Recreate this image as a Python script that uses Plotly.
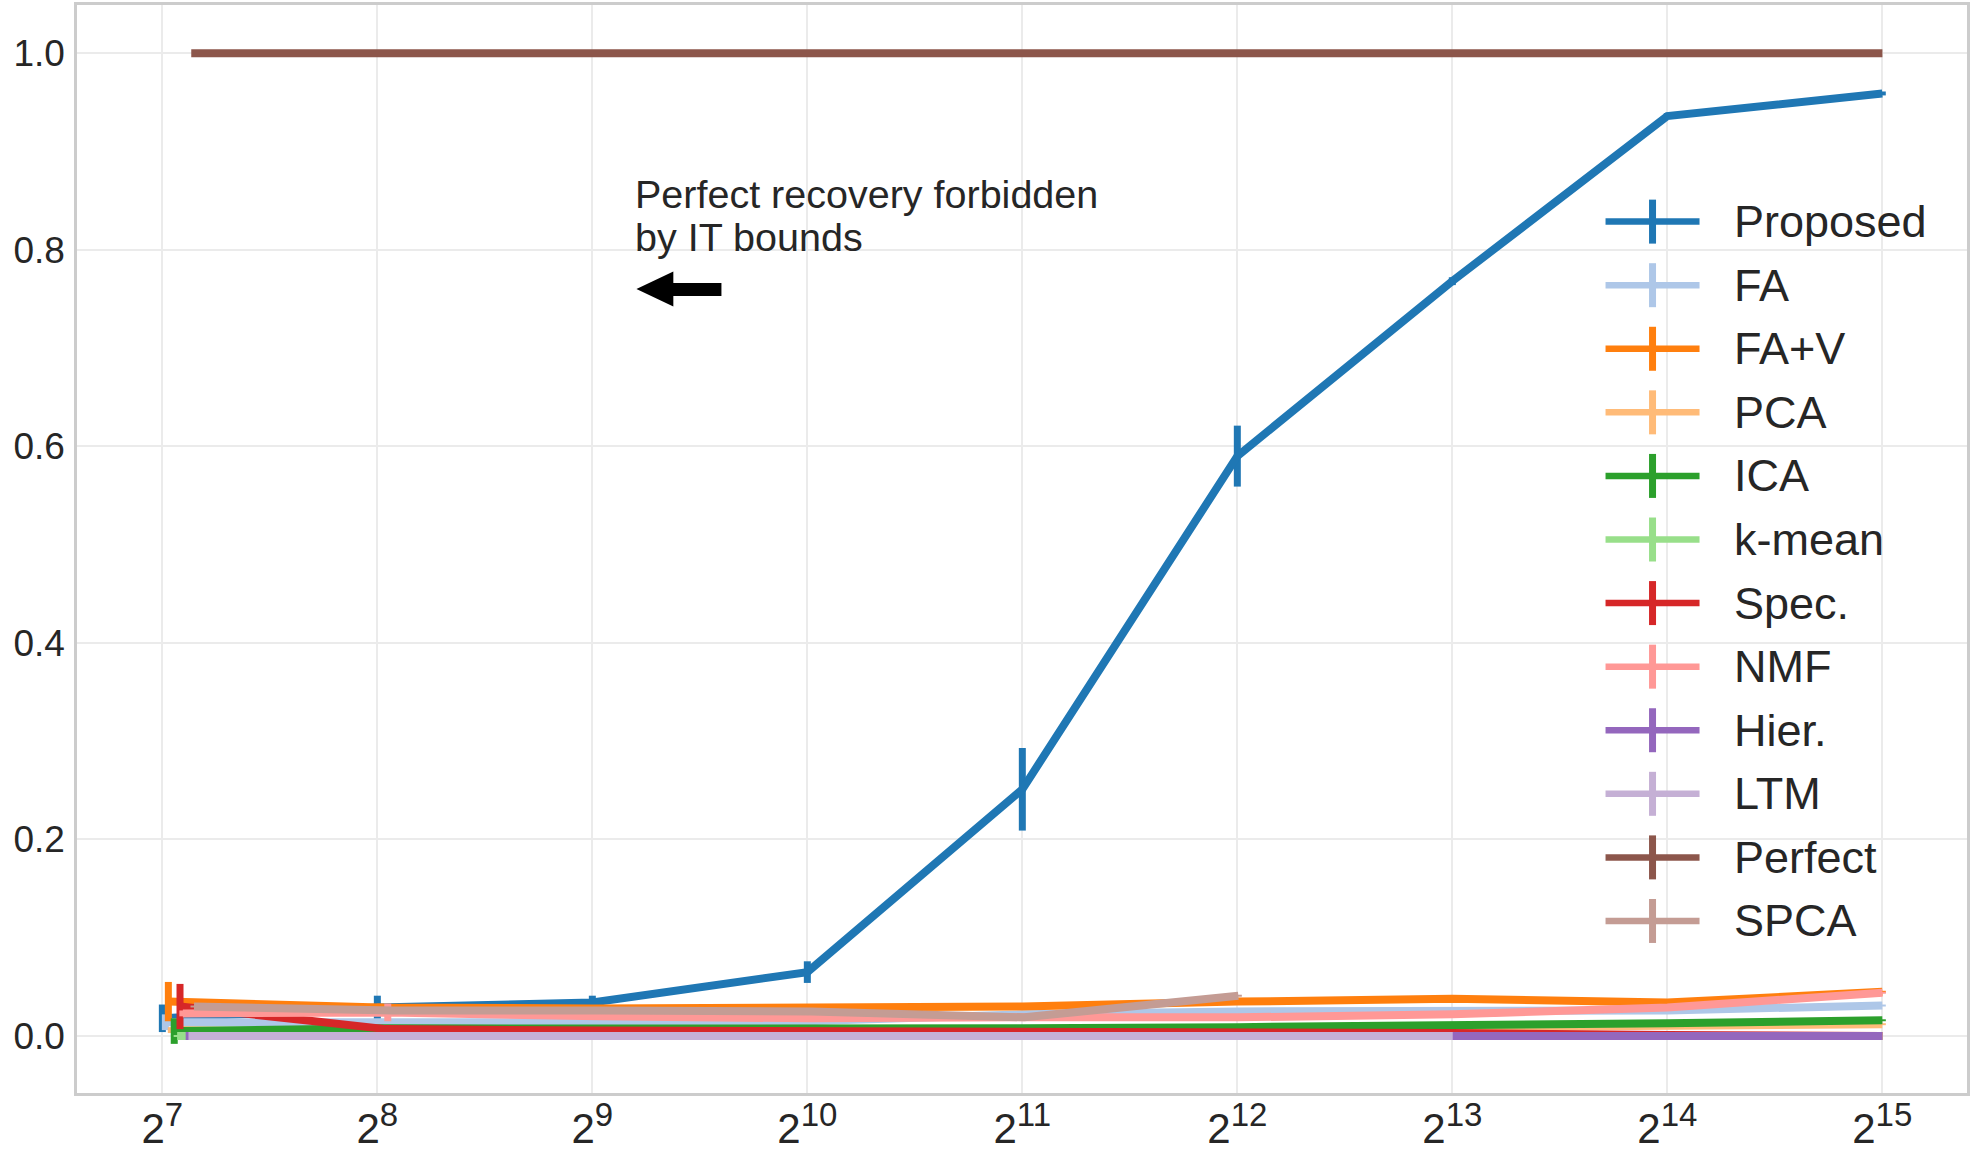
import math
import plotly.graph_objects as go

# ---------------- data ----------------
sample_sizes = [128, 256, 512, 1024, 2048, 4096, 8192, 16384, 32768]
exponents = [7, 8, 9, 10, 11, 12, 13, 14, 15]
x_tick_labels = ['2<sup><span style="font-size:33px">%d</span></sup>' % e for e in exponents]
y_tick_values = [0.0, 0.2, 0.4, 0.6, 0.8, 1.0]

methods = ["Proposed", "FA", "FA+V", "PCA", "ICA", "k-mean", "Spec.",
           "NMF", "Hier.", "LTM", "Perfect", "SPCA"]
colors = ["#1f77b4", "#aec7e8", "#ff7f0e", "#ffbb78", "#2ca02c", "#98df8a",
          "#d62728", "#ff9896", "#9467bd", "#c5b0d5", "#8c564b", "#c49c94"]
# small horizontal shift of each method's sample sizes (as in the original)
x_shift = [0.0, 1.25, 2.5, 3.75, 5.0, 6.25, 7.5, 8.75, 10.0, 11.25, 12.5, 13.75]

proposed     = [0.018, 0.029, 0.034, 0.065, 0.251, 0.590, 0.768, 0.936, 0.959]
proposed_err = [0.014, 0.012, 0.007, 0.011, 0.042, 0.031, 0.004, 0.003, 0.002]
fa           = [0.014, 0.013, 0.014, 0.015, 0.022, 0.025, 0.025, 0.026, 0.031]
fa_err       = [0.008, 0.004, 0.005, 0.002, 0.002, 0.002, 0.001, 0.001, 0.001]
fav          = [0.035, 0.029, 0.028, 0.028, 0.030, 0.035, 0.038, 0.034, 0.045]
fav_err      = [0.020, 0.004, 0.002, 0.002, 0.002, 0.002, 0.001, 0.001, 0.001]
pca          = [0.006, 0.003, 0.005, 0.005, 0.006, 0.007, 0.009, 0.010, 0.012]
pca_err      = [0.003, 0.006, 0.002, 0.001, 0.001, 0.001, 0.001, 0.001, 0.001]
ica          = [0.005, 0.008, 0.0075, 0.0073, 0.008, 0.009, 0.010, 0.013, 0.016]
ica_err      = [0.013, 0.002, 0.001, 0.001, 0.001, 0.001, 0.001, 0.001, 0.001]
kmean        = [0.000, 0.000, 0.000, 0.000, 0.000, 0.000, 0.000, 0.000, 0.000]
kmean_err    = [0.001, 0.000, 0.000, 0.000, 0.000, 0.000, 0.000, 0.000, 0.000]
spec         = [0.030, 0.007, 0.0056, 0.005, 0.005, 0.005, 0.003, 0.001, 0.000]
spec_err     = [0.023, 0.002, 0.001, 0.001, 0.001, 0.001, 0.001, 0.000, 0.000]
nmf          = [0.023, 0.024, 0.020, 0.018, 0.019, 0.019, 0.022, 0.029, 0.044]
nmf_err      = [0.003, 0.009, 0.002, 0.002, 0.001, 0.001, 0.001, 0.001, 0.001]
hier         = [0.000, 0.000, 0.000, 0.000, 0.000, 0.000, 0.000, 0.000, 0.000]
hier_err     = [0.000, 0.000, 0.000, 0.000, 0.000, 0.000, 0.000, 0.000, 0.000]
ltm          = [0.000, 0.000, 0.000, 0.000, 0.000, 0.000, 0.000]
ltm_err      = [0.000, 0.000, 0.000, 0.000, 0.000, 0.000, 0.000]
perfect      = [1.0, 1.0, 1.0, 1.0, 1.0, 1.0, 1.0, 1.0, 1.0]
perfect_err  = [0.0, 0.0, 0.0, 0.0, 0.0, 0.0, 0.0, 0.0, 0.0]
spca         = [0.030, 0.026, 0.026, 0.025, 0.019, 0.041]
spca_err     = [0.001, 0.001, 0.001, 0.001, 0.001, 0.001]

series_values = [proposed, fa, fav, pca, ica, kmean, spec, nmf, hier, ltm, perfect, spca]
series_errors = [proposed_err, fa_err, fav_err, pca_err, ica_err, kmean_err, spec_err,
                 nmf_err, hier_err, ltm_err, perfect_err, spca_err]

annotation_lines = ["Perfect recovery forbidden", "by IT bounds"]

# ---------------- layout geometry ----------------
W, H = 1975, 1151
PL, PR, PT, PB = 77.3, 1967.5, 5.0, 1093.4   # plot-area pixel box


def px_x(px):
    return (px - PL) / (PR - PL)


def px_y(py):
    return (PB - py) / (PB - PT)


LOG2 = math.log10(2)
x_range = [6.603 * LOG2, 15.394 * LOG2]
y_range = [-0.058, 1.049]

TEXT = "#262626"
FONT = "Liberation Sans, Arial, Helvetica, sans-serif"

fig = go.Figure()

for name, col, shift, vals, errs in zip(methods, colors, x_shift, series_values, series_errors):
    xs = [n + shift for n in sample_sizes[:len(vals)]]
    fig.add_trace(go.Scatter(
        x=xs, y=vals, name=name, mode="lines",
        line=dict(color=col, width=8),
        error_y=dict(type="data", array=errs, visible=True, color=col,
                     thickness=7, width=0),
        showlegend=False,
    ))

shapes = []
annotations = []

# custom legend mimicking errorbar handles
leg_y0, leg_dy = 221.7, 63.6
for i, (name, col) in enumerate(zip(methods, colors)):
    yc = leg_y0 + leg_dy * i
    shapes.append(dict(type="line", xref="paper", yref="paper",
                       x0=px_x(1606), x1=px_x(1700), y0=px_y(yc), y1=px_y(yc),
                       line=dict(color=col, width=6.5)))
    shapes.append(dict(type="line", xref="paper", yref="paper",
                       x0=px_x(1653), x1=px_x(1653), y0=px_y(yc - 22), y1=px_y(yc + 22),
                       line=dict(color=col, width=7)))
    annotations.append(dict(xref="paper", yref="paper", x=px_x(1732), y=px_y(yc),
                            xanchor="left", yanchor="middle", showarrow=False,
                            text=name, font=dict(family=FONT, size=45, color=TEXT)))

# text annotation
for txt, base in zip(annotation_lines, [208.0, 250.7]):
    annotations.append(dict(xref="paper", yref="paper", x=px_x(633), y=px_y(base - 13.5),
                            xanchor="left", yanchor="middle", showarrow=False,
                            text=txt, font=dict(family=FONT, size=39.5, color=TEXT)))

# black arrow pointing left
pts = [(636.8, 289.0), (673.7, 271.7), (673.7, 283.0), (721.8, 283.0),
       (721.8, 296.0), (673.7, 296.0), (673.7, 306.7)]
path = "M " + " L ".join("%.5f,%.5f" % (px_x(a), px_y(b)) for a, b in pts) + " Z"
shapes.append(dict(type="path", xref="paper", yref="paper", path=path,
                   fillcolor="black", line=dict(color="black", width=0)))

fig.update_layout(
    width=W, height=H,
    margin=dict(l=PL, r=W - PR, t=PT, b=H - PB, pad=0),
    paper_bgcolor="white", plot_bgcolor="white",
    showlegend=False,
    shapes=shapes, annotations=annotations,
    font=dict(family=FONT, color=TEXT),
)
fig.update_xaxes(
    type="log", range=x_range, tickvals=sample_sizes, ticktext=x_tick_labels,
    tickfont=dict(family="Liberation Sans Narrow, Liberation Sans, Arial, sans-serif",
                  size=42, color=TEXT),
    showgrid=True, gridcolor="#ebebeb", gridwidth=1.5,
    showline=True, linecolor="#cccccc", linewidth=2.5, mirror=True,
    ticks="", ticklabelstandoff=-3, zeroline=False, automargin=False,
)
fig.update_yaxes(
    range=y_range, tickvals=y_tick_values, tickformat=".1f",
    tickfont=dict(family=FONT, size=37, color=TEXT),
    showgrid=True, gridcolor="#ebebeb", gridwidth=1.5,
    showline=True, linecolor="#cccccc", linewidth=2.5, mirror=True,
    ticks="", ticklabelstandoff=2, zeroline=False, automargin=False,
)

fig.write_html("out.html", config={"displayModeBar": False},
               post_script="document.body.style.margin='0px';document.body.style.overflow='hidden';")
